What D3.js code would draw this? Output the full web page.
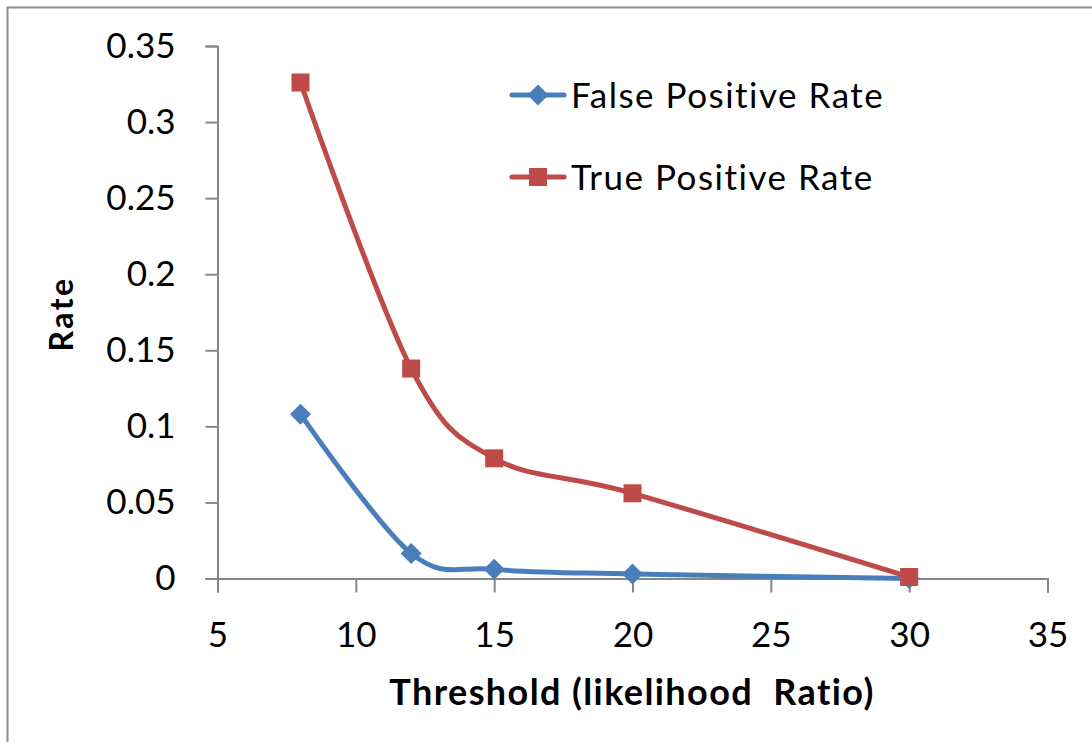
<!DOCTYPE html>
<html>
<head>
<meta charset="utf-8">
<script src="https://cdn.jsdelivr.net/npm/d3@7"></script>
<style>
  html, body { margin: 0; padding: 0; background: #fff; }
  svg { display: block; }
  text { font-family: Lato, "Open Sans", sans-serif; fill: #000; }
</style>
</head>
<body>
<svg id="chart" width="1092" height="742"></svg>
<script>
// Threshold values and the two rates measured at each
const thresholds = [8, 12, 15, 20, 30];
const falsePositiveRate = [0.108, 0.0165, 0.006, 0.003, 0.0];
const truePositiveRate = [0.326, 0.138, 0.079, 0.056, 0.001];
const xTicks = [5, 10, 15, 20, 25, 30, 35];
const yTicks = [0, 0.05, 0.1, 0.15, 0.2, 0.25, 0.3, 0.35];
const seriesNames = ["False Positive Rate", "True Positive Rate"];

const svg = d3.select("#chart");
const W = 1092, H = 742;

// outer frame
svg.append("rect")
  .attr("x", 7.5).attr("y", 7.5)
  .attr("width", W + 20).attr("height", H + 20)
  .attr("fill", "none").attr("stroke", "#8c8c8c").attr("stroke-width", 2);

const plot = { left: 217.5, right: 1047.5, top: 46, bottom: 578.5 };

const x = d3.scaleLinear().domain([5, 35]).range([plot.left, plot.right]);
const y = d3.scaleLinear().domain([0, 0.35]).range([plot.bottom, plot.top]);

const axisColor = "#868686";

// y axis
const yAxis = svg.append("g")
  .attr("transform", `translate(${plot.left},0)`)
  .call(d3.axisLeft(y).tickValues(yTicks).tickSize(12).tickPadding(30)
    .tickFormat(d => d3.format("")(+d.toFixed(2))));
yAxis.select(".domain").attr("stroke", axisColor).attr("stroke-width", 2);
yAxis.selectAll(".tick line").attr("stroke", axisColor).attr("stroke-width", 2);
yAxis.selectAll(".tick text")
  .attr("font-size", 35).attr("font-family", "Lato, sans-serif").attr("fill", "#000");

// x axis
const xAxis = svg.append("g")
  .attr("transform", `translate(0,${plot.bottom})`)
  .call(d3.axisBottom(x).tickValues(xTicks).tickSize(14).tickPadding(30));
xAxis.select(".domain").attr("stroke", axisColor).attr("stroke-width", 2);
xAxis.selectAll(".tick line").attr("stroke", axisColor).attr("stroke-width", 2);
xAxis.selectAll(".tick text")
  .attr("font-size", 35).attr("font-family", "Lato, sans-serif").attr("fill", "#000");

// axis titles
svg.append("text")
  .attr("x", 632).attr("y", 705)
  .attr("text-anchor", "middle")
  .attr("font-size", 36).attr("font-weight", "bold")
  .attr("letter-spacing", 1.4)
  .style("white-space", "pre")
  .text("Threshold (likelihood  Ratio)");

svg.append("text")
  .attr("transform", "translate(73,314) rotate(-90)")
  .attr("text-anchor", "middle")
  .attr("font-size", 32).attr("font-weight", "bold")
  .attr("letter-spacing", 2.5)
  .text("Rate");

const line = d3.line()
  .x(d => x(d[0])).y(d => y(d[1]))
  .curve(d3.curveCardinal.tension(0));

const series = [
  { name: seriesNames[0], values: falsePositiveRate, color: "#4a7ebb", shape: "diamond" },
  { name: seriesNames[1], values: truePositiveRate, color: "#be4b48", shape: "square" }
];

function drawMarker(g, shape, cx, cy, color) {
  if (shape === "diamond") {
    g.append("path")
      .attr("d", `M${cx},${cy - 10.5}L${cx + 10.5},${cy}L${cx},${cy + 10.5}L${cx - 10.5},${cy}Z`)
      .attr("fill", color);
  } else {
    g.append("rect")
      .attr("x", cx - 9).attr("y", cy - 9)
      .attr("width", 18).attr("height", 18)
      .attr("fill", color);
  }
}

series.forEach(s => {
  const pts = thresholds.map((t, i) => [t, s.values[i]]);
  const g = svg.append("g");
  g.append("path")
    .attr("d", line(pts))
    .attr("fill", "none")
    .attr("stroke", s.color)
    .attr("stroke-width", 5)
    .attr("stroke-linecap", "round")
    .attr("stroke-linejoin", "round");
  pts.forEach(p => drawMarker(g, s.shape, x(p[0]), y(p[1]), s.color));
});

// legend
const legendY = [95, 177];
series.forEach((s, i) => {
  const g = svg.append("g");
  g.append("line")
    .attr("x1", 512).attr("x2", 564)
    .attr("y1", legendY[i]).attr("y2", legendY[i])
    .attr("stroke", s.color).attr("stroke-width", 5)
    .attr("stroke-linecap", "round");
  drawMarker(g, s.shape, 538, legendY[i], s.color);
  g.append("text")
    .attr("x", 571).attr("y", legendY[i] + 12.5)
    .attr("font-size", 35)
    .attr("letter-spacing", 1.5)
    .text(s.name);
});
</script>
</body>
</html>
